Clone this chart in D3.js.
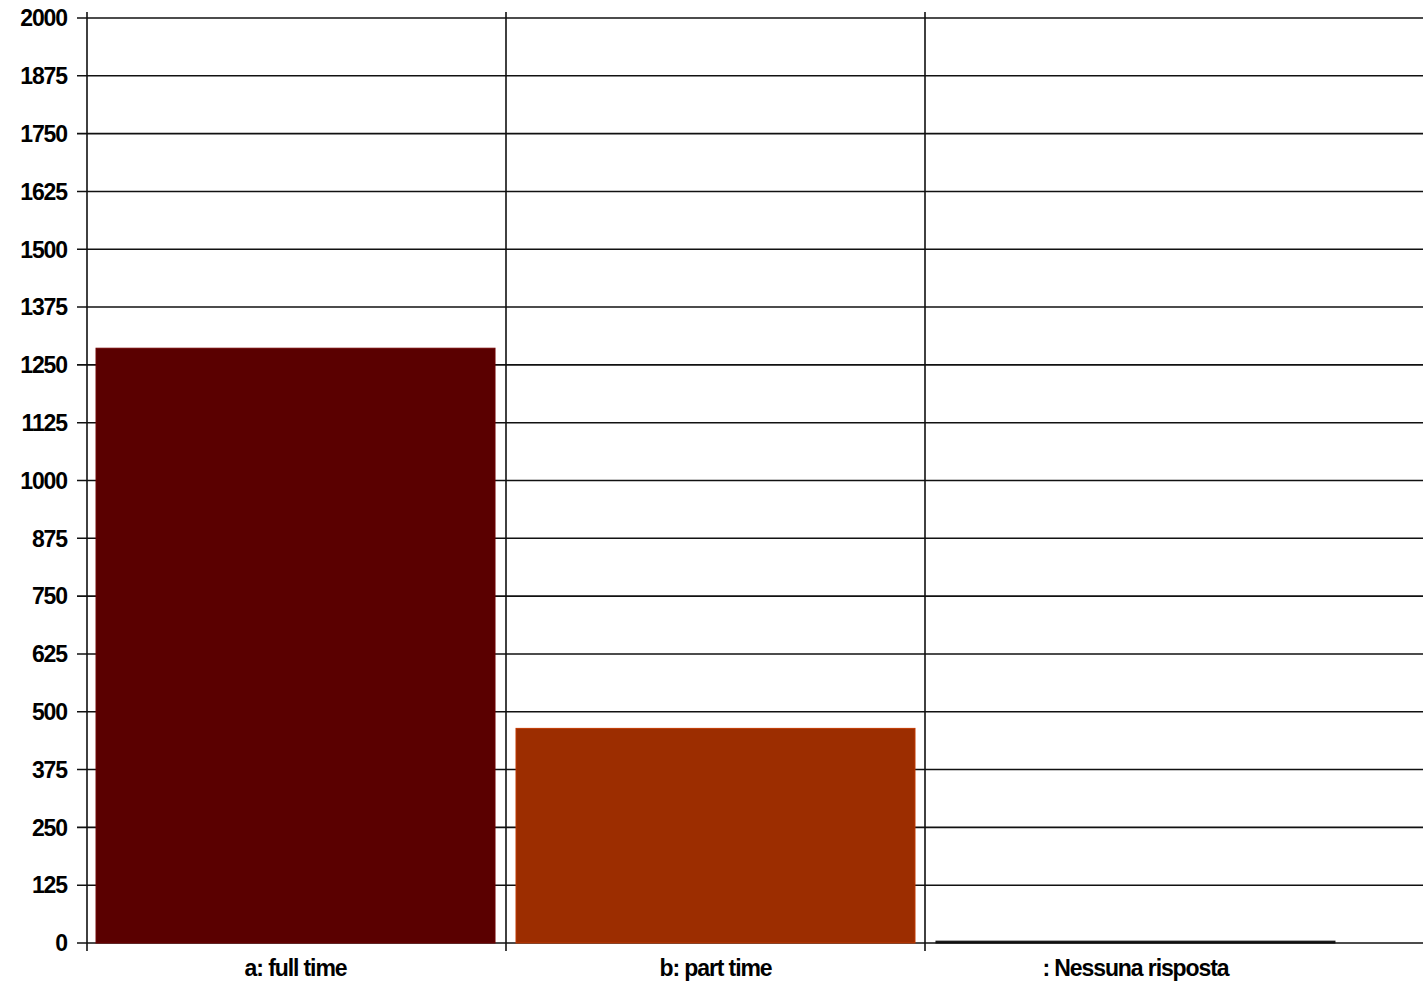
<!DOCTYPE html>
<html><head><meta charset="utf-8">
<script src="https://cdn.jsdelivr.net/npm/d3@7"></script>
<style>body{margin:0;background:#fff}svg{display:block}</style>
</head><body>
<svg id="c" width="1423" height="984"></svg>
<script>
const categories = ["a: full time", "b: part time", ": Nessuna risposta"];
const values = [1286, 464, 4];
const colors = ["#5a0000", "#9c2d00", "#111111"];
const yTicks = [0,125,250,375,500,625,750,875,1000,1125,1250,1375,1500,1625,1750,1875,2000];

(function () {
const svg = d3.select("#c");
const mLeft = 87, mRight = 1344, mTop = 18, mBottom = 943;
const y = d3.scaleLinear().domain([0, 2000]).range([mBottom, mTop]);
const xg = d3.scaleBand().domain(categories).range([mLeft, mRight]).padding(0);
const xb = d3.scaleBand().domain(categories).range([mLeft, mRight]).paddingInner(0.05).paddingOuter(0.0215);

svg.append("g").selectAll("line").data(yTicks).join("line")
  .attr("x1", mLeft - 10).attr("x2", 1423)
  .attr("y1", d => y(d)).attr("y2", d => y(d))
  .attr("stroke", "#111").attr("stroke-width", 1.6);

const bounds = categories.map(c => xg(c));
svg.append("g").selectAll("line").data(bounds).join("line")
  .attr("x1", d => d).attr("x2", d => d)
  .attr("y1", mTop - 6).attr("y2", mBottom + 8)
  .attr("stroke", "#111").attr("stroke-width", 1.6);

svg.append("g").selectAll("rect").data(categories).join("rect")
  .attr("x", d => xb(d)).attr("width", xb.bandwidth())
  .attr("y", (d, i) => y(values[i])).attr("height", (d, i) => mBottom - y(values[i]))
  .attr("fill", (d, i) => colors[i])
  .attr("stroke", (d, i) => i === 2 ? colors[i] : d3.color(colors[i]).brighter(0.6))
  .attr("stroke-width", 1);

svg.append("g").selectAll("text").data(yTicks).join("text")
  .attr("x", 67).attr("y", d => y(d))
  .attr("dy", "0.36em").attr("text-anchor", "end")
  .attr("font-family", "Liberation Sans, Arial, sans-serif")
  .attr("font-weight", "bold").attr("font-size", 23).attr("letter-spacing", -1.1)
  .attr("fill", "#000").text(d => d);

svg.append("g").selectAll("text").data(categories).join("text")
  .attr("x", d => xb(d) + xb.bandwidth() / 2).attr("y", 976)
  .attr("text-anchor", "middle")
  .attr("font-family", "Liberation Sans, Arial, sans-serif")
  .attr("font-weight", "bold").attr("font-size", 23).attr("letter-spacing", -1.1)
  .attr("fill", "#000").text(d => d);
})();
</script>
</body></html>
